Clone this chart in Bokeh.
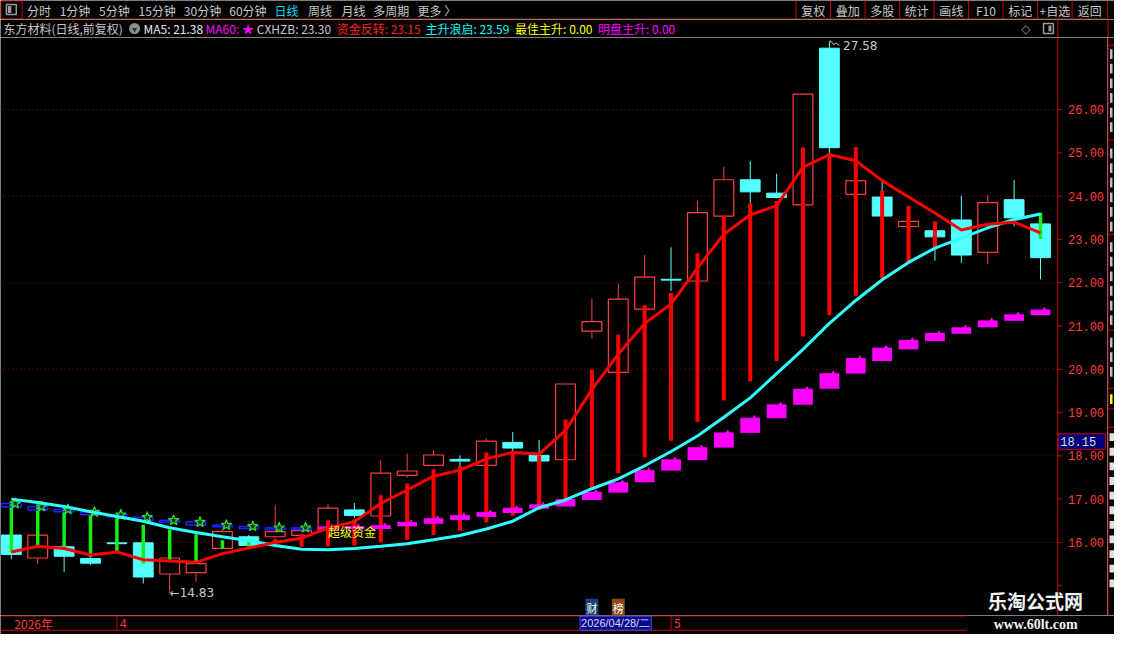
# 东方材料 日线（前复权） + 主升浪类指标，通达信风格暗色K线图
from bokeh.plotting import figure
from bokeh.layouts import column, row
from bokeh.models import Label, Range1d
from bokeh.core.properties import value
from bokeh.embed import file_html
from bokeh.resources import INLINE

# ---------------- 数据 ----------------
opens = [16.17, 15.64, 15.90, 15.63, 15.99, 15.99, 15.27, 15.30, 15.86, 16.13,
         16.13, 16.16, 16.29, 16.75, 16.61, 17.55, 17.78, 17.92, 17.78, 18.31,
         18.01, 17.91, 20.88, 19.93, 21.39, 22.08, 22.04, 23.54, 24.38, 24.07,
         23.80, 27.42, 24.04, 23.98, 23.30, 23.20, 23.45, 22.70, 23.92, 23.36]
highs = [16.20, 16.20, 15.95, 15.66, 16.02, 16.00, 15.66, 15.53, 16.31, 16.17,
         16.85, 16.30, 16.88, 16.91, 17.90, 18.05, 18.12, 18.01, 18.40, 18.55,
         18.37, 19.66, 21.63, 21.98, 22.64, 22.82, 23.90, 24.68, 24.81, 24.52,
         26.36, 27.58, 25.13, 24.40, 23.50, 23.25, 24.01, 24.03, 24.37, 23.40]
lows = [15.61, 15.50, 15.32, 15.47, 15.85, 15.05, 14.83, 15.09, 15.84, 15.91,
        16.10, 16.10, 16.25, 16.57, 16.58, 17.50, 17.75, 17.73, 17.75, 18.10,
        17.85, 17.88, 20.71, 19.90, 21.35, 21.81, 22.00, 23.50, 23.83, 23.95,
        23.78, 25.00, 23.95, 23.50, 23.25, 22.51, 22.46, 22.43, 23.30, 22.08]
closes = [15.72, 16.17, 15.68, 15.52, 15.97, 15.20, 15.64, 15.51, 16.25, 15.93,
          16.25, 16.27, 16.79, 16.62, 17.60, 17.65, 18.02, 17.88, 18.34, 18.18,
          17.88, 19.66, 21.10, 21.62, 22.13, 22.06, 23.62, 24.38, 24.10, 23.97,
          26.36, 25.12, 24.36, 23.54, 23.42, 23.06, 22.64, 23.85, 23.50, 22.58]

# 资金反转（红线）
zjfz = [15.78, 15.91, 15.86, 15.71, 15.78, 15.60, 15.57, 15.54, 15.74, 15.87,
        16.00, 16.10, 16.33, 16.48, 16.90, 17.21, 17.53, 17.67, 17.93, 18.08,
        18.04, 18.59, 19.53, 20.35, 21.06, 21.51, 22.34, 23.12, 23.57, 23.78,
        24.67, 24.96, 24.82, 24.36, 23.98, 23.61, 23.22, 23.35, 23.40, 23.15]
# 主升浪启（青线）
zslq = [17.00, 16.92, 16.83, 16.71, 16.60, 16.49, 16.34, 16.23, 16.13, 16.04,
        15.93, 15.84, 15.83, 15.86, 15.91, 15.97, 16.06, 16.16, 16.31, 16.49,
        16.80, 16.98, 17.24, 17.47, 17.77, 18.10, 18.46, 18.89, 19.34, 19.90,
        20.46, 21.06, 21.59, 22.07, 22.47, 22.80, 23.03, 23.27, 23.46, 23.59]

# 绿柱
green_idx = [0, 1, 2, 3, 4, 5, 6, 7, 8, 9, 39]
green_top = [16.94, 16.86, 16.75, 16.64, 16.56, 16.41, 16.30, 16.19, 16.05, 16.05, 23.62]
green_bot = [15.77, 15.93, 15.89, 15.66, 15.77, 15.51, 15.60, 15.56, 15.86, 15.90, 23.01]

# 红柱
red_idx = list(range(10, 36))
red_top = [16.08, 16.19, 16.51, 16.53, 17.09, 17.36, 17.69, 17.77, 18.08, 18.12,
           18.01, 18.84, 19.99, 20.80, 21.48, 21.76, 22.68, 23.55, 23.83, 23.89,
           25.13, 25.00, 25.13, 24.13, 23.78, 23.42]
red_bot = [15.97, 15.90, 15.91, 15.93, 16.00, 16.06, 16.17, 16.27, 16.46, 16.62,
           16.75, 16.94, 17.27, 17.60, 17.97, 18.35, 18.78, 19.28, 19.72, 20.19,
           20.76, 21.25, 21.70, 22.11, 22.46, 22.75]

# 蓝框 + 星
blue_idx = list(range(0, 12))
blue_top = [16.90, 16.83, 16.76, 16.70, 16.64, 16.58, 16.51, 16.47, 16.40, 16.37, 16.34, 16.34]
blue_bot = [16.82, 16.75, 16.71, 16.64, 16.59, 16.51, 16.47, 16.40, 16.36, 16.32, 16.30, 16.30]

# 紫块
mag_idx = list(range(12, 40))
mag_top = [16.37, 16.38, 16.40, 16.47, 16.56, 16.63, 16.70, 16.80, 16.88, 17.00,
           17.17, 17.39, 17.67, 17.92, 18.20, 18.54, 18.88, 19.19, 19.55, 19.91,
           20.26, 20.50, 20.68, 20.84, 20.97, 21.13, 21.27, 21.38]
mag_bot = [16.31, 16.31, 16.31, 16.37, 16.43, 16.52, 16.59, 16.68, 16.78, 16.83,
           16.98, 17.15, 17.39, 17.66, 17.90, 18.19, 18.53, 18.87, 19.18, 19.55,
           19.90, 20.19, 20.46, 20.65, 20.82, 20.97, 21.12, 21.25]

month_idx = [0, 4, 25]
month_lbl = ["2026年", "4", "5"]
sel_idx = 22
sel_lbl = "2026/04/28/二"
event_idx = [22, 23]
event_lbl = ["财", "榜"]
event_bg = ["#1d3f7a", "#8a4a12"]
cxhzb = 23.30
best_zs = 0.00
mp_zs = 0.00
cursor_price = 18.15
price_ticks = list(range(15, 27))
label_ticks = list(range(16, 27))
grid_ticks = [16, 18, 20, 22, 24, 26]

# 工具栏
tb_left = ["分时", "1分钟", "5分钟", "15分钟", "30分钟", "60分钟", "日线", "周线", "月线", "多周期", "更多 〉"]
tb_left_x = [27, 60, 100, 140, 186, 232, 278, 312, 346, 378, 423]
tb_right = ["复权", "叠加", "多股", "统计", "画线", "F10", "标记", "+自选", "返回"]
tb_sep = [807, 842, 877, 912, 947, 982, 1017, 1052, 1087, 1123]

CJK = "Noto Sans CJK SC"
CHROME = "#c80000"
UP = "#ff4040"
DOWN = "#54ffff"
W = 1114


# 参考图像素 -> K线序号 / 价格
def px2i(px):
    return (px - 11) / 26.77


def px2p(py):
    return 26 - (py - 111) / 44.4


def strip(width, height, x_range, y_range):
    f = figure(width=width, height=height, x_range=x_range, y_range=y_range,
               x_axis_location=None, y_axis_location=None,
               toolbar_location=None, output_backend="svg", min_border=0,
               background_fill_color="black", border_fill_color="black",
               outline_line_color=None)
    f.xgrid.visible = False
    f.ygrid.visible = False
    return f


def txt(f, x, y, text, color, size="12px", align="left", font=CJK, style="normal", **kw):
    f.text(x=x, y=y, text=text, text_color=color, text_font_size=size,
           text_align=align, text_baseline="middle", text_font=value(font),
           text_font_style=style, **kw)


# ---------------- 工具栏 ----------------
tb = strip(W, 19, Range1d(0, 1130), Range1d(19, 0))
tb.quad(left=0.5, right=22, top=0.5, bottom=18.5, fill_color=None, line_color=CHROME)
tb.quad(left=6, right=16, top=4, bottom=14, fill_color=None, line_color="#9a9a9a", line_width=1.5)
tb.quad(left=7.5, right=11, top=5.5, bottom=12.5, fill_color="#9a9a9a", line_color=None)
tb_colors = ["#00d8ff" if t == "日线" else "#c8c8c8" for t in tb_left]
txt(tb, tb_left_x, [9.5] * len(tb_left), tb_left, tb_colors)
tb.segment(x0=tb_sep, x1=tb_sep, y0=0, y1=19, line_color=CHROME)
tb_mid = [(a + b) / 2 for a, b in zip(tb_sep[:-1], tb_sep[1:])]
txt(tb, tb_mid, [9.5] * len(tb_right), tb_right, "#c8c8c8", align="center")
tb.segment(x0=0, x1=1123, y0=18.5, y1=18.5, line_color=CHROME)

# ---------------- 指标标题行 ----------------
hd = strip(W, 18, Range1d(0, 1130), Range1d(37, 19))
hd_text = ["东方材料(日线,前复权)",
           f"MA5: {mag_top[-1]:.2f}",
           "MA60: ★",
           f"CXHZB: {cxhzb:.2f}",
           f"资金反转: {zjfz[-1]:.2f}",
           f"主升浪启: {zslq[-1]:.2f}",
           f"最佳主升: {best_zs:.2f}",
           f"明盘主升: {mp_zs:.2f}"]
hd_x = [3, 145, 208, 260, 341, 431, 522, 606]
hd_color = ["#c8c8c8", "#e8e8e8", "#ff00ff", "#c8c8c8", "#ff2020", "#00ffff", "#ffff00", "#ff00ff"]
txt(hd, hd_x, [28] * len(hd_text), hd_text, hd_color)
hd.scatter(x=[136], y=[28], marker="circle", size=11, fill_color="#8c8c8c", line_color=None)
hd.scatter(x=[136], y=[29], marker="inverted_triangle", size=5, fill_color="#333333", line_color=None)
txt(hd, [1040], [28], ["◇"], "#9a9a9a", align="center", font="DejaVu Sans")
hd.quad(left=1058, right=1068, top=23, bottom=33, fill_color=None, line_color="#9a9a9a", line_width=1.5)
hd.quad(left=1063, right=1066, top=25, bottom=31, fill_color="#9a9a9a", line_color=None)
hd.segment(x0=[1072.5, 1123.5], x1=[1072.5, 1123.5], y0=19, y1=37, line_color=CHROME)

# ---------------- 主图（含右侧价格刻度区） ----------------
p = strip(1107, 578, Range1d(px2i(0), px2i(1123)), Range1d(px2p(630), px2p(37)))
x_axis = px2i(1072.5)

# 点状网格
p.segment(x0=px2i(0), x1=px2i(1072), y0=grid_ticks, y1=grid_ticks,
          line_color="#a00000", line_dash="1 3")

idx = list(range(len(opens)))
up = [i for i in idx if closes[i] >= opens[i]]
dn = [i for i in idx if closes[i] < opens[i]]

# 阴线：实心青
p.segment(x0=dn, x1=dn, y0=[lows[i] for i in dn], y1=[highs[i] for i in dn], line_color=DOWN)
p.vbar(x=dn, width=0.75, top=[opens[i] for i in dn], bottom=[closes[i] for i in dn],
       fill_color=DOWN, line_color=DOWN)
# 阳线：空心红
p.segment(x0=up, x1=up, y0=[closes[i] for i in up], y1=[highs[i] for i in up], line_color=UP)
p.segment(x0=up, x1=up, y0=[lows[i] for i in up], y1=[opens[i] for i in up], line_color=UP)
p.vbar(x=up, width=0.75, top=[closes[i] for i in up], bottom=[opens[i] for i in up],
       fill_color=None, line_color=UP, line_width=1.2)

# 红柱 / 绿柱
p.segment(x0=red_idx, x1=red_idx, y0=red_bot, y1=red_top, line_color="#ff0000", line_width=4)
p.segment(x0=green_idx, x1=green_idx, y0=green_bot, y1=green_top, line_color="#14f014", line_width=3.5)

# 紫块、蓝框、星
p.vbar(x=mag_idx, width=0.75, top=mag_top, bottom=mag_bot, fill_color="#ff00ff", line_color=None)
p.scatter(x=[i + 0.15 for i in mag_idx], y=mag_top, marker="triangle", size=5,
          fill_color="#ff00ff", line_color=None)
p.vbar(x=blue_idx, width=0.75, top=blue_top, bottom=blue_bot, fill_color=None,
       line_color="#2020ff", line_width=1.5)
p.scatter(x=[i + 0.15 for i in blue_idx], y=blue_top, marker="star", size=11,
          fill_color="#0b3a0b", line_color="#30e030", line_width=1.2)

# 两条线
p.line(idx, zslq, line_color="#30ffff", line_width=3)
p.line(idx, zjfz, line_color="#ff0000", line_width=3)

# 最低 / 最高标注
lo_i = lows.index(min(lows))
hi_i = highs.index(max(highs))
lo, hi = lows[lo_i], highs[hi_i]
txt(p, [lo_i], [lo], [f"←{lo:.2f}"], "#c8c8c8", font="DejaVu Sans")
p.line([hi_i, hi_i + 0.06, hi_i + 0.16, hi_i + 0.26, hi_i + 0.38],
       [hi, hi, hi - 0.08, hi - 0.04, hi - 0.1], line_color="#c8c8c8", line_width=1)
txt(p, [hi_i + 0.52], [hi - 0.09], [f"{hi:.2f}"], "#c8c8c8", font="DejaVu Sans")

txt(p, [mag_idx[0]], [mag_bot[0] - 0.06], ["超级资金"], "#ffff00")

for i, t, bg in zip(event_idx, event_lbl, event_bg):
    p.add_layout(Label(x=i, y=px2p(622), text=t, text_align="center", text_baseline="middle",
                       text_color="white", text_font=CJK, text_font_size="11px",
                       background_fill_color=bg, padding=1))

# 价格刻度（右侧）
p.segment(x0=x_axis, x1=x_axis, y0=px2p(630), y1=px2p(37), line_color=CHROME)
p.segment(x0=x_axis, x1=px2i(1077), y0=price_ticks, y1=price_ticks, line_color=CHROME)
txt(p, [px2i(1083)] * len(label_ticks), label_ticks, [f"{t:.2f}" for t in label_ticks],
    "#ff3c3c", font="Liberation Mono")

# 光标价格框
box_h = 16 / 44.4
p.quad(left=px2i(1073), right=px2i(1121), bottom=cursor_price, top=cursor_price + box_h,
       fill_color="#00007a", line_color=CHROME)
txt(p, [px2i(1075)], [cursor_price + box_h / 2], [f"{cursor_price:.2f}"], "#dcdcdc",
    font="Liberation Mono")

# 水印
p.add_layout(Label(x=px2i(1050), y=px2p(615), text="乐淘公式网", text_align="center",
                   text_baseline="middle", text_color="#f4f4f4", text_font=CJK,
                   text_font_size="19px", text_font_style="bold"))

# ---------------- 右侧残留面板 ----------------
sd = strip(7, 578, Range1d(0, 7), Range1d(630, 37))
sd.segment(x0=0.5, x1=0.5, y0=37, y1=630, line_color=CHROME)
side_rules = [45, 142, 239, 337, 397, 418, 437]
sd.segment(x0=0.5, x1=7, y0=side_rules, y1=side_rules, line_color=CHROME)
side_y = [54, 69, 84, 99, 114, 129, 156, 171, 186, 201, 216, 231, 252, 267, 282, 297, 312, 327, 350, 365, 380]
sd.quad(left=2.5, right=5, top=[y - 5 for y in side_y], bottom=[y + 5 for y in side_y],
        fill_color="#bdbdbd", line_color=None)
sd.quad(left=2.5, right=5, top=403, bottom=413, fill_color="#ffff00", line_color=None)
block_y = [447, 462, 477, 492, 507, 522, 537, 552, 567, 582, 597]
sd.quad(left=2, right=7, top=[b - 4 for b in block_y], bottom=[b + 4 for b in block_y],
        fill_color="#e0e0e0", line_color=None)

# ---------------- 底部日期条 ----------------
bt = strip(W, 19, Range1d(px2i(0), px2i(1130)), Range1d(650, 630))
bt.segment(x0=px2i(0), x1=px2i(980), y0=[630.5, 645.5], y1=[630.5, 645.5], line_color=CHROME)
bt.segment(x0=month_idx[1:], x1=month_idx[1:], y0=630.5, y1=645.5, line_color=CHROME)
txt(bt, month_idx, [638] * len(month_idx), month_lbl, "#ff3c3c", x_offset=3)
bt.add_layout(Label(x=sel_idx - 0.45, y=638, text=sel_lbl, text_align="left", text_baseline="middle",
                    text_color="#d8d8ff", text_font="Liberation Sans", text_font_size="11px",
                    background_fill_color="#0a0a88", border_line_color="#4a4aff", padding=1))
txt(bt, [px2i(1050)], [639], ["www.60lt.com"], "#f4f4f4", size="14px", align="center",
    font="Liberation Serif", style="bold")

layout = column(tb, hd, row(p, sd), bt)
open("out.html", "w").write(file_html(layout, INLINE))
